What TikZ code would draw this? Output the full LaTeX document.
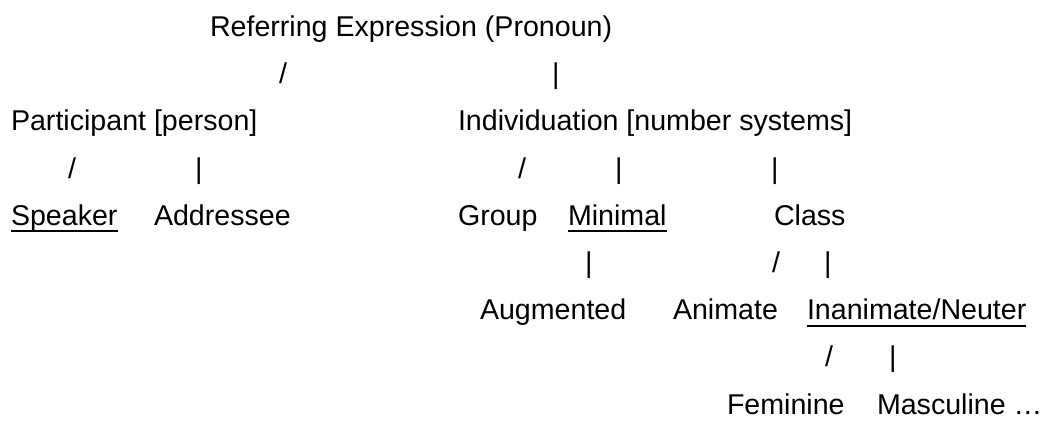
\documentclass[tikz,border=0pt]{standalone}
\usepackage{fontspec}
\setmainfont{Liberation Sans}
\newcommand\myul[1]{\setbox0\hbox{#1}\rlap{\rule[-0.25em]{\wd0}{0.08em}}\box0}
\begin{document}
\begin{tikzpicture}[x=1pt,y=-1pt,
  lbl/.style={anchor=base west, inner sep=0pt, outer sep=0pt, font=\fontsize{28.6}{34}\selectfont, text=black}]
\useasboundingbox (0,0) rectangle (1047,423);
% row 1
\node[lbl] (root) at (210,36.5) {Referring Expression (Pronoun)};
% row 2
\node[lbl] (r2a) at (279,83.7) {/};
\node[lbl] (r2b) at (552,83.7) {|};
% row 3
\node[lbl] (part) at (11,130.9) {Participant [person]};
\node[lbl] (indiv) at (458,130.9) {Individuation [number systems]};
% row 4
\node[lbl] (r4a) at (68,178.1) {/};
\node[lbl] (r4b) at (195,178.1) {|};
\node[lbl] (r4c) at (518,178.1) {/};
\node[lbl] (r4d) at (615,178.1) {|};
\node[lbl] (r4e) at (771,178.1) {|};
% row 5
\node[lbl] (speaker) at (11,225.3) {\myul{Speaker}};
\node[lbl] (addr) at (154,225.3) {Addressee};
\node[lbl] (group) at (458,225.3) {Group};
\node[lbl] (minimal) at (568,225.3) {\myul{Minimal}};
\node[lbl] (class) at (774,225.3) {Class};
% row 6
\node[lbl] (r6a) at (585,272.5) {|};
\node[lbl] (r6b) at (772,272.5) {/};
\node[lbl] (r6c) at (824,272.5) {|};
% row 7
\node[lbl] (augm) at (480,319.7) {Augmented};
\node[lbl] (anim) at (673,319.7) {Animate};
\node[lbl] (inan) at (807,319.7) {\myul{Inanimate/Neuter}};
% row 8
\node[lbl] (r8a) at (825,366.9) {/};
\node[lbl] (r8b) at (889,366.9) {|};
% row 9
\node[lbl] (fem) at (727,414.1) {Feminine};
\node[lbl] (masc) at (877,414.1) {Masculine …};
\end{tikzpicture}
\end{document}
